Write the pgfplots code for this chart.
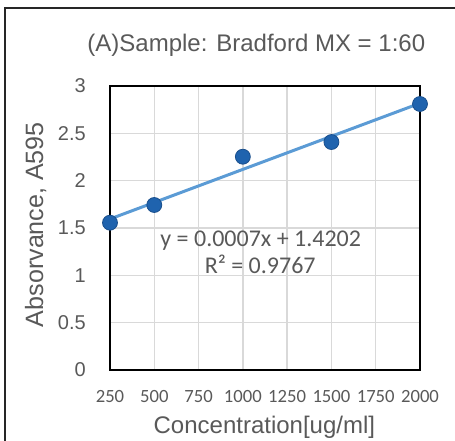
\documentclass[border=0pt]{standalone}
\usepackage{fontspec}
\setmainfont{Liberation Sans}
\newfontfamily\calibri{Carlito}
\usepackage{pgfplots}
\pgfplotsset{compat=1.18}
\definecolor{txt}{HTML}{595959}
\definecolor{gridc}{HTML}{D9D9D9}
\definecolor{mfill}{HTML}{1F63AE}
\definecolor{mdraw}{HTML}{1A4F8C}
\definecolor{lineblue}{HTML}{5B9BD5}
\begin{document}
\begin{tikzpicture}
\useasboundingbox (0,0) rectangle (341.25pt,330.75pt);
\draw[line width=1.5pt,black!85] (3.75pt,-5pt) -- (3.75pt,324.9pt) -- (345pt,324.9pt);
\begin{axis}[
  at={(82.5pt,53.25pt)}, anchor=south west,
  scale only axis, width=232.5pt, height=213pt,
  xmin=250, xmax=2000, ymin=0, ymax=3,
  xtick={250,500,...,2000}, ytick={0,0.5,...,3},
  grid=major, major grid style={gridc, line width=1.1pt},
  axis line style={black, line width=1.1pt},
  tick style={draw=none},
  /pgf/number format/assume math mode=true,
  scaled x ticks=false,
  xticklabel style={font=\calibri\fontsize{14}{16}\selectfont, text=txt, inner sep=0pt, anchor=center, yshift=-20.25pt, /pgf/number format/1000 sep={}},
  yticklabel style={font=\fontsize{15}{17}\selectfont, text=txt, inner sep=0pt, anchor=east, xshift=-18pt},
  clip=false,
]
\addplot[lineblue, line width=2.25pt] coordinates {(250,1.595) (2000,2.818)};
\addplot[only marks, mark=*, mark size=5.6pt, mark options={fill=mfill, draw=mdraw, line width=0.6pt}] coordinates {
(250,1.556) (500,1.743) (1000,2.253) (1500,2.408) (2000,2.81)};
\node[anchor=base, text=txt, font=\calibri\fontsize{18}{20}\selectfont, inner sep=0pt] at (axis cs:1101,1.302) {y = 0.0007x + 1.4202};
\node[anchor=base, text=txt, font=\calibri\fontsize{18}{20}\selectfont, inner sep=0pt] at (axis cs:1098,1.014) {R² = 0.9767};
\node[anchor=base, text=txt, font=\fontsize{18}{20}\selectfont, inner sep=0pt] at (axis description cs:0.472,1.121) {(A)Sample: Bradford MX = 1:60};
\node[anchor=base, text=txt, font=\fontsize{18}{20}\selectfont, inner sep=0pt] at (axis description cs:0.498,-0.222) {Concentration[ug/ml]};
\node[anchor=base, rotate=90, text=txt, font=\fontsize{18.8}{21}\selectfont, inner sep=0pt] at (axis description cs:-0.216,0.512) {Absorvance, A595};
\end{axis}
\end{tikzpicture}
\end{document}
